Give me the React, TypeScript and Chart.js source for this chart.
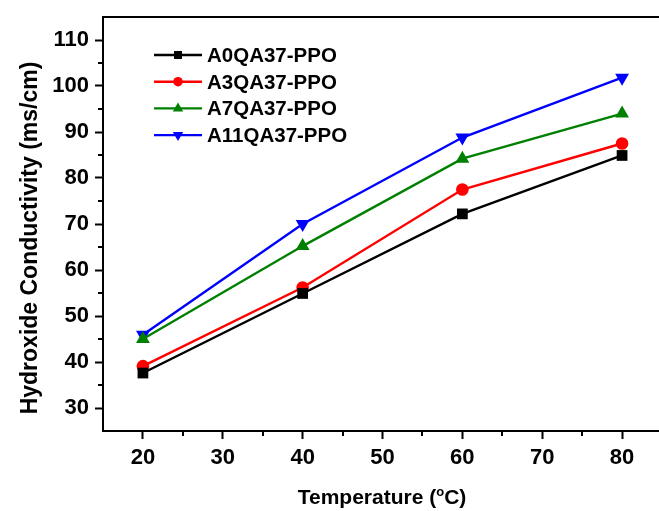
import React, { useEffect, useRef } from "react";
import { Chart, registerables } from "chart.js";

Chart.register(...registerables);

// ---- data ----
const temperatures = [20, 40, 60, 80];
const seriesNames = ["A0QA37-PPO", "A3QA37-PPO", "A7QA37-PPO", "A11QA37-PPO"];
const a0Values = [37.6, 54.9, 72.2, 84.9];
const a3Values = [39.1, 56.2, 77.5, 87.5];
const a7Values = [45.0, 65.2, 84.2, 94.0];
const a11Values = [45.9, 70.0, 88.8, 101.8];
const xTickValues = [20, 30, 40, 50, 60, 70, 80];
const xMinorTickValues = [25, 35, 45, 55, 65, 75, 85];
const yTickValues = [30, 40, 50, 60, 70, 80, 90, 100, 110];
const yMinorTickValues = [35, 45, 55, 65, 75, 85, 95, 105];
const xTitleParts = ["Temperature (", "o", "C)"];
const yTitle = "Hydroxide Conductivity (ms/cm)";

const FONT_FAMILY = "'Liberation Sans', Arial, sans-serif";
const X_TICK_FONT = { family: FONT_FAMILY, size: 22, weight: "bold" as const };
const Y_TICK_FONT = { family: FONT_FAMILY, size: 22, weight: "bold" as const, lineHeight: 0.9 };

function drawMarker(
  ctx: CanvasRenderingContext2D,
  style: string,
  x: number,
  y: number,
  r: number,
  rotationDeg: number,
  color: string
) {
  ctx.save();
  ctx.fillStyle = color;
  ctx.beginPath();
  if (style === "rect") {
    const h = r * Math.SQRT1_2;
    ctx.rect(x - h, y - h, 2 * h, 2 * h);
  } else if (style === "circle") {
    ctx.arc(x, y, r, 0, Math.PI * 2);
  } else {
    let a = (rotationDeg * Math.PI) / 180;
    ctx.moveTo(x + Math.sin(a) * r, y - Math.cos(a) * r);
    a += (2 * Math.PI) / 3;
    ctx.lineTo(x + Math.sin(a) * r, y - Math.cos(a) * r);
    a += (2 * Math.PI) / 3;
    ctx.lineTo(x + Math.sin(a) * r, y - Math.cos(a) * r);
    ctx.closePath();
  }
  ctx.fill();
  ctx.restore();
}

const decorPlugin = {
  id: "decor",
  afterDraw(chart: any) {
    const ctx: CanvasRenderingContext2D = chart.ctx;
    const area = chart.chartArea;
    const xs = chart.scales.x;
    const ys = chart.scales.y;
    ctx.save();

    // top frame line (the reference has no right frame)
    ctx.strokeStyle = "#000";
    ctx.lineWidth = 2;
    ctx.beginPath();
    ctx.moveTo(area.left - 1, area.top);
    ctx.lineTo(area.right + 2, area.top);
    ctx.stroke();

    // minor ticks
    xMinorTickValues.forEach((v) => {
      const px = Math.round(xs.getPixelForValue(v));
      ctx.beginPath();
      ctx.moveTo(px, area.bottom);
      ctx.lineTo(px, area.bottom + 5);
      ctx.stroke();
    });
    yMinorTickValues.forEach((v) => {
      const py = Math.round(ys.getPixelForValue(v));
      ctx.beginPath();
      ctx.moveTo(area.left, py);
      ctx.lineTo(area.left - 5, py);
      ctx.stroke();
    });

    // legend
    chart.data.datasets.forEach((ds: any, i: number) => {
      const y = 55 + i * 26.7;
      ctx.strokeStyle = ds.borderColor;
      ctx.lineWidth = 2.4;
      ctx.beginPath();
      ctx.moveTo(154, y);
      ctx.lineTo(202, y);
      ctx.stroke();
      drawMarker(ctx, ds.pointStyle, 178, y, ds.pointRadius * 0.75, ds.pointRotation || 0, ds.backgroundColor);
      ctx.fillStyle = "#000";
      ctx.font = `bold 20.5px ${FONT_FAMILY}`;
      ctx.textAlign = "left";
      ctx.textBaseline = "alphabetic";
      ctx.fillText(ds.label, 207, y + 7);
    });

    // y title
    ctx.save();
    ctx.fillStyle = "#000";
    ctx.font = `bold 23px ${FONT_FAMILY}`;
    ctx.textAlign = "center";
    ctx.textBaseline = "alphabetic";
    ctx.translate(36.5, 238);
    ctx.rotate(-Math.PI / 2);
    ctx.fillText(yTitle, 0, 0);
    ctx.restore();

    // x title with superscript o
    const bigFont = `bold 21px ${FONT_FAMILY}`;
    const smallFont = `bold 13px ${FONT_FAMILY}`;
    ctx.font = bigFont;
    const w0 = ctx.measureText(xTitleParts[0]).width;
    const w2 = ctx.measureText(xTitleParts[2]).width;
    ctx.font = smallFont;
    const w1 = ctx.measureText(xTitleParts[1]).width;
    const total = w0 + w1 + w2;
    let sx = 382 - total / 2;
    const base = 504;
    ctx.textAlign = "left";
    ctx.fillStyle = "#000";
    ctx.font = bigFont;
    ctx.fillText(xTitleParts[0], sx, base);
    sx += w0;
    ctx.font = smallFont;
    ctx.fillText(xTitleParts[1], sx, base - 8);
    sx += w1;
    ctx.font = bigFont;
    ctx.fillText(xTitleParts[2], sx, base);

    ctx.restore();
  },
};

function makeDataset(label: string, values: number[], color: string, style: string, radius: number, rotation = 0) {
  return {
    label,
    data: temperatures.map((t, i) => ({ x: t, y: values[i] })),
    borderColor: color,
    backgroundColor: color,
    borderWidth: 2.4,
    pointStyle: style,
    pointRadius: radius,
    pointRotation: rotation,
    pointBorderWidth: 0,
    pointBackgroundColor: color,
    pointBorderColor: color,
    tension: 0,
    fill: false,
  };
}

export default function App() {
  const canvasRef = useRef<HTMLCanvasElement | null>(null);

  useEffect(() => {
    if (!canvasRef.current) return;
    const chart = new Chart(canvasRef.current, {
      type: "line",
      data: {
        datasets: [
          makeDataset(seriesNames[0], a0Values, "#000000", "rect", 7.6),
          makeDataset(seriesNames[1], a3Values, "#ff0000", "circle", 6.3),
          makeDataset(seriesNames[2], a7Values, "#008000", "triangle", 8),
          makeDataset(seriesNames[3], a11Values, "#0000ff", "triangle", 8, 180),
        ] as any,
      },
      options: {
        animation: false,
        responsive: true,
        maintainAspectRatio: false,
        events: [],
        layout: { autoPadding: false, padding: { top: 17, right: 8, left: 0, bottom: 0 } },
        plugins: {
          legend: { display: false },
          tooltip: { enabled: false },
          title: { display: false },
        },
        scales: {
          x: {
            type: "linear",
            min: 15,
            max: 85,
            afterBuildTicks: (s: any) => {
              s.ticks = xTickValues.map((v) => ({ value: v }));
            },
            afterFit: (s: any) => {
              s.height = 80;
            },
            ticks: {
              font: X_TICK_FONT,
              color: "#000",
              padding: 6,
              autoSkip: false,
              maxRotation: 0,
              callback: (v: any) => String(v),
            },
            grid: {
              display: true,
              drawOnChartArea: false,
              drawTicks: true,
              tickLength: 8,
              tickWidth: 2,
              tickColor: "#000",
            },
            border: { display: true, width: 2, color: "#000" },
          },
          y: {
            type: "linear",
            min: 25,
            max: 115,
            afterBuildTicks: (s: any) => {
              s.ticks = yTickValues.map((v) => ({ value: v }));
            },
            afterFit: (s: any) => {
              s.width = 103;
            },
            ticks: {
              font: Y_TICK_FONT,
              color: "#000",
              padding: 6,
              autoSkip: false,
              callback: (v: any) => String(v),
            },
            grid: {
              display: true,
              drawOnChartArea: false,
              drawTicks: true,
              tickLength: 8,
              tickWidth: 2,
              tickColor: "#000",
            },
            border: { display: true, width: 2, color: "#000" },
          },
        },
      } as any,
      plugins: [decorPlugin],
    });
    return () => chart.destroy();
  }, []);

  return (
    <div
      style={{
        position: "fixed",
        left: 0,
        top: 0,
        width: 659,
        height: 511,
        overflow: "hidden",
        background: "#fff",
      }}
    >
      <div style={{ position: "relative", width: 670, height: 511 }}>
        <canvas ref={canvasRef} />
      </div>
    </div>
  );
}
